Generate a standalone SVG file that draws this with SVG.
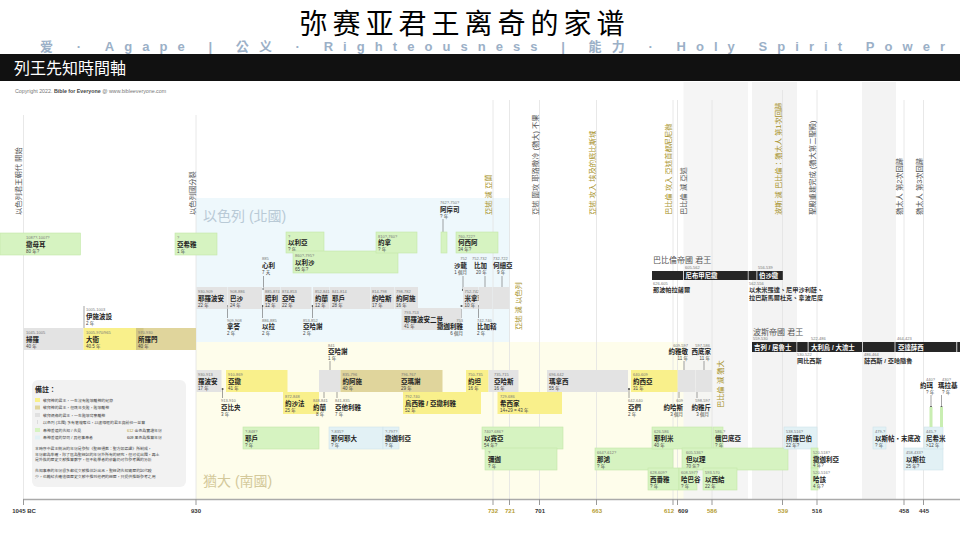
<svg xmlns="http://www.w3.org/2000/svg" width="960" height="541" viewBox="0 0 960 541">
<style>
text{font-family:"Liberation Sans","Noto Sans CJK TC",sans-serif}
.d{font-size:4px;fill:#777}
.n{font-size:6.5px;font-weight:bold;fill:#222}
.y{font-size:4.5px;fill:#444}
.kg{fill:#e3e3e3}
.ky{fill:#f9f08b}
.kt{fill:#e0d59c}
.pg{fill:#d6f3c1;stroke:#c3e8a9;stroke-width:.6}
.pb{fill:#e2f1f5;stroke:#cfe4ea;stroke-width:.6}
.grid{stroke:#e2e2e2;stroke-width:.8}
.band{fill:#f3f3f3}
.ev{font-size:7.3px;fill:#555}
.evg{font-size:7.3px;fill:#a8922a}
.tick{stroke:#999;stroke-width:1}
.ln{stroke:#666;stroke-width:.6;fill:none}
.dot{fill:#555}
.bk{fill:#262626}
.bt{font-size:6.4px;font-weight:bold;fill:#fff}
.bn{font-size:6.2px;font-weight:bold;fill:#333}
.emp{font-size:8px;fill:#555}
.ax{font-size:6px;font-weight:bold;fill:#333}
.axg{font-size:6px;font-weight:bold;fill:#b59d34}
.lg{font-size:3.9px;fill:#444}
.e{text-anchor:end}
</style>
<rect width="960" height="541" fill="#fff"/>

<!-- header -->
<text x="462" y="33.5" text-anchor="middle" font-size="28" textLength="325" lengthAdjust="spacing" style="font-family:'Noto Sans CJK SC',sans-serif" fill="#000">弥赛亚君王离奇的家谱</text>
<text x="40" y="51" font-size="13" font-weight="bold" fill="#9bb0c7" textLength="905" lengthAdjust="spacing">爱 · Agape | 公义 · Righteousness | 能力 · Holy Spirit Power</text>
<rect x="0" y="54" width="960" height="27" fill="#111"/>
<text x="14" y="74" font-size="16" fill="#fff">列王先知時間軸</text>
<text x="15" y="93" font-size="5.3" fill="#777">Copyright 2022. <tspan font-weight="bold" fill="#444">Bible for Everyone</tspan> @ www.bibleeveryone.com</text>

<!-- background regions -->
<rect x="196" y="198" width="314" height="144" fill="#eef8fc"/>
<rect x="196" y="342" width="516" height="157" fill="#fefdeb"/>
<rect class="band" x="683.5" y="82" width="64.5" height="417" opacity=".85"/>
<rect class="band" x="752" y="82" width="45" height="417"/>
<rect class="band" x="862" y="82" width="34" height="417"/>
<text x="203" y="221" font-size="14" fill="#b9cad6">以色列 (北國)</text>
<text x="203" y="486" font-size="14" fill="#d4c99b">猶大 (南國)</text>

<!-- grid -->
<g id="grid">
<line class="grid" x1="23.5" y1="115" x2="23.5" y2="499"/>
<line class="grid" x1="196" y1="115" x2="196" y2="499"/>
<line class="grid" x1="493" y1="100" x2="493" y2="499"/>
<line class="grid" x1="509.5" y1="100" x2="509.5" y2="499"/>
<line class="grid" x1="539.5" y1="100" x2="539.5" y2="499"/>
<line class="grid" x1="596.5" y1="100" x2="596.5" y2="499"/>
<line class="grid" x1="673" y1="100" x2="673" y2="499"/>
<line class="grid" x1="677.5" y1="100" x2="677.5" y2="499"/>
<line class="grid" x1="712" y1="100" x2="712" y2="499"/>
<line class="grid" x1="782.5" y1="90" x2="782.5" y2="499"/>
<line class="grid" x1="817" y1="90" x2="817" y2="499"/>
<line class="grid" x1="904" y1="100" x2="904" y2="499"/>
<line class="grid" x1="923.5" y1="100" x2="923.5" y2="499"/>
</g>

<!-- events -->
<g id="events">
<text class="ev" transform="translate(20.5,215) rotate(-90)">以色列君王朝代 開始</text>
<text class="ev" transform="translate(194.5,215) rotate(-90)">以色列國分裂</text>
<text class="evg" transform="translate(491,215) rotate(-90)">亞述 滅 亞蘭</text>
<text class="ev" transform="translate(537.5,215) rotate(-90)">亞述 圍攻 耶路撒冷 (猶大) 不果</text>
<text class="evg" transform="translate(595,215) rotate(-90)">亞述 攻入 埃及的底比斯城</text>
<text class="evg" transform="translate(670.5,215) rotate(-90)">巴比倫 攻入 亞述首都尼尼微</text>
<text class="ev" transform="translate(685.5,215) rotate(-90)">巴比倫 滅 亞述</text>
<text class="evg" transform="translate(780.5,215) rotate(-90)">波斯 滅 巴比倫：猶太人 第1次回歸</text>
<text class="ev" transform="translate(815,215) rotate(-90)">聖殿重建完成 (猶大第二聖殿)</text>
<text class="ev" transform="translate(901.5,215) rotate(-90)">猶太人 第2次回歸</text>
<text class="ev" transform="translate(921.5,215) rotate(-90)">猶太人 第3次回歸</text>
<text class="evg" transform="translate(521,330) rotate(-90)">亞述 滅 以色列</text>
<text class="evg" transform="translate(722.5,408) rotate(-90)">巴比倫 滅 猶大</text>
</g>

<!-- connectors -->
<g id="connectors">
<line class="ln" x1="84" y1="306" x2="84" y2="328"/>
<line class="ln" x1="443" y1="219" x2="443" y2="236"/><circle class="dot" cx="443" cy="236" r="1.1"/>
<line class="ln" x1="263.5" y1="276" x2="263.5" y2="289"/><circle class="dot" cx="263.5" cy="289" r="1.1"/>
<line class="ln" x1="463" y1="276" x2="463" y2="290"/><circle class="dot" cx="463" cy="290" r="1.1"/>
<line class="ln" x1="485" y1="276" x2="485" y2="290"/><circle class="dot" cx="485" cy="290" r="1.1"/>
<line class="ln" x1="502" y1="276" x2="502" y2="290"/><circle class="dot" cx="502" cy="290" r="1.1"/>
<line class="ln" x1="227.5" y1="306" x2="227.5" y2="318"/><circle class="dot" cx="227.5" cy="306" r="1.1"/>
<line class="ln" x1="262.5" y1="306" x2="262.5" y2="318"/><circle class="dot" cx="262.5" cy="306" r="1.1"/>
<line class="ln" x1="312.5" y1="306" x2="312.5" y2="318"/><circle class="dot" cx="312.5" cy="306" r="1.1"/>
<line class="ln" x1="461.5" y1="309" x2="461.5" y2="318"/><circle class="dot" cx="461.5" cy="306" r="1.1"/>
<line class="ln" x1="478.5" y1="306" x2="478.5" y2="318"/><circle class="dot" cx="478.5" cy="306" r="1.1"/>
<line class="ln" x1="330" y1="361" x2="330" y2="373"/><circle class="dot" cx="330" cy="373" r="1.1"/>
<line class="ln" x1="684" y1="361" x2="684" y2="373"/><circle class="dot" cx="684" cy="373" r="1.1"/>
<line class="ln" x1="704" y1="361" x2="704" y2="373"/><circle class="dot" cx="704" cy="373" r="1.1"/>
<line class="ln" x1="222.5" y1="389" x2="222.5" y2="398"/><circle class="dot" cx="222.5" cy="389" r="1.1"/>
<line class="ln" x1="324" y1="389" x2="324" y2="398"/><circle class="dot" cx="324" cy="389" r="1.1"/>
<line class="ln" x1="337" y1="389" x2="337" y2="398"/><circle class="dot" cx="337" cy="389" r="1.1"/>
<line class="ln" x1="629" y1="389" x2="629" y2="398"/><circle class="dot" cx="629" cy="389" r="1.1"/>
<line class="ln" x1="679" y1="389" x2="679" y2="398"/><circle class="dot" cx="679" cy="389" r="1.1"/>
<line class="ln" x1="697" y1="389" x2="697" y2="398"/><circle class="dot" cx="697" cy="389" r="1.1"/>
<line class="ln" x1="931" y1="395" x2="931" y2="407"/><circle class="dot" cx="931" cy="407" r="1.1"/>
<line class="ln" x1="941.5" y1="395" x2="941.5" y2="407"/><circle class="dot" cx="941.5" cy="407" r="1.1"/>
</g>

<!-- united kingdom -->
<g id="saul"><rect class="kg" x="23.5" y="328" width="60" height="22"/><text class="d" x="26" y="334">1045-1005</text><text class="n" x="26" y="342">掃羅</text><text class="y" x="26" y="348">40 年</text></g>
<g id="david"><rect class="ky" x="83.5" y="328" width="52.5" height="22"/><text class="d" x="86" y="334">1005-970/965</text><text class="n" x="86" y="342">大衛</text><text class="y" x="86" y="348">40.5 年</text></g>
<g id="solomon"><rect class="kt" x="136" y="328" width="60" height="22"/><rect x="136" y="328" width="7.5" height="22" fill="#d3c784"/><text class="d" x="138" y="334">970-930</text><text class="n" x="138" y="342">所羅門</text><text class="y" x="138" y="348">40 年</text></g>
<g id="ishbosheth"><text class="d" x="86" y="311">1005-1003</text><text class="n" x="86" y="319">伊施波設</text><text class="y" x="86" y="325">2 年</text></g>

<!-- early prophets -->
<g id="samuel"><rect class="pg" x="0" y="233" width="80.5" height="22"/><text class="d" x="26" y="239">1087?-1007?</text><text class="n" x="26" y="247">撒母耳</text><text class="y" x="26" y="253">80 年?</text></g>
<g id="ahijah"><rect class="pg" x="175" y="233" width="42" height="22"/><text class="d" x="177" y="239">?</text><text class="n" x="177" y="247">亞希雅</text><text class="y" x="177" y="253">1 年</text></g>

<!-- northern prophets -->
<g id="elijah"><rect class="pg" x="286" y="232" width="38" height="21"/><text class="d" x="288" y="238">?</text><text class="n" x="288" y="245">以利亞</text><text class="y" x="288" y="251">? 年</text></g>
<g id="elisha"><rect class="pg" x="293" y="251" width="105" height="22"/><text class="d" x="295" y="257">860?-795?</text><text class="n" x="295" y="265">以利沙</text><text class="y" x="295" y="271">65 年?</text></g>
<g id="jonah"><rect class="pg" x="376" y="232" width="41" height="21"/><text class="d" x="378" y="238">810?-760?</text><text class="n" x="378" y="245">約拿</text><text class="y" x="378" y="251">? 年</text></g>
<g id="amos"><rect class="pg" x="441" y="232" width="6" height="21"/><text class="d" x="440" y="204">762?-750?</text><text class="n" x="440" y="212">阿摩司</text><text class="y" x="440" y="218">? 年</text></g>
<g id="hosea"><rect class="pg" x="456" y="232" width="42" height="21"/><text class="d" x="458" y="238">760-722?</text><text class="n" x="458" y="245">何西阿</text><text class="y" x="458" y="251">34 年?</text></g>

<!-- northern kings -->
<g id="jeroboam"><rect class="kg" x="196.5" y="287" width="31" height="22"/><text class="d" x="198" y="293">930-909</text><text class="n" x="198" y="301">耶羅波安</text><text class="y" x="198" y="307">22 年</text></g>
<g id="nadab"><text class="d" x="227" y="322">909-908</text><text class="n" x="227" y="329">拿答</text><text class="y" x="227" y="335">2 年</text></g>
<g id="baasha"><rect class="kg" x="228" y="287" width="34" height="22"/><text class="d" x="230" y="293">908-886</text><text class="n" x="230" y="301">巴沙</text><text class="y" x="230" y="307">24 年</text></g>
<g id="elah"><text class="d" x="262" y="322">886-885</text><text class="n" x="262" y="329">以拉</text><text class="y" x="262" y="335">2 年</text></g>
<g id="zimri"><text class="d" x="262" y="260">885</text><text class="n" x="262" y="268">心利</text><text class="y" x="262" y="274">7 天</text></g>
<g id="omri"><rect class="kg" x="263.5" y="287" width="16.5" height="22"/><text class="d" x="265" y="293">885-874</text><text class="n" x="265" y="301">暗利</text><text class="y" x="265" y="307">12 年</text></g>
<g id="ahab"><rect class="kg" x="280.5" y="287" width="31" height="22"/><text class="d" x="282" y="293">874-853</text><text class="n" x="282" y="301">亞哈</text><text class="y" x="282" y="307">22 年</text></g>
<g id="ahaziah-n"><text class="d" x="303" y="322">853-852</text><text class="n" x="303" y="329">亞哈謝</text><text class="y" x="303" y="335">2 年</text></g>
<g id="joram-n"><rect class="kg" x="313" y="287" width="16.5" height="22"/><text class="d" x="315" y="293">852-841</text><text class="n" x="315" y="301">約蘭</text><text class="y" x="315" y="307">12 年</text></g>
<g id="jehu"><rect class="kg" x="330" y="287" width="40" height="22"/><text class="d" x="332" y="293">841-814</text><text class="n" x="332" y="301">耶戶</text><text class="y" x="332" y="307">28 年</text></g>
<g id="jehoahaz-n"><rect class="kg" x="370.5" y="287" width="23.5" height="22"/><text class="d" x="372" y="293">814-798</text><text class="n" x="372" y="301">約哈斯</text><text class="y" x="372" y="307">17 年</text></g>
<g id="joash-n"><rect class="kg" x="394.5" y="287" width="23.5" height="22"/><text class="d" x="396" y="293">798-782</text><text class="n" x="396" y="301">約阿施</text><text class="y" x="396" y="307">16 年</text></g>
<g id="jeroboam2"><rect class="kg" x="401.5" y="308" width="60" height="22"/><text class="d" x="404" y="314">793-753</text><text class="n" x="404" y="322">耶羅波安二世</text><text class="y" x="404" y="328">41 年</text></g>
<g id="zechariah-n"><text class="d e" x="463" y="322">753</text><text class="n e" x="463" y="329">撒迦利雅</text><text class="y e" x="463" y="335">6 個月</text></g>
<g id="shallum"><text class="d e" x="467" y="260">752</text><text class="n e" x="467" y="268">沙龍</text><text class="y e" x="467" y="274">1 個月</text></g>
<g id="menahem"><rect class="kg" x="463" y="287" width="15" height="22"/><text class="d" x="464.5" y="293">752-742</text><text class="n" x="464.5" y="301">米拿現</text><text class="y" x="464.5" y="307">10 年</text></g>
<g id="pekahiah"><text class="d" x="477" y="322">742-740</text><text class="n" x="477" y="329">比加轄</text><text class="y" x="477" y="335">2 年</text></g>
<g id="pekah"><rect class="kg" x="478.5" y="287" width="14" height="22"/><text class="d" x="472" y="260">752-732</text><text class="n" x="474" y="268">比加</text><text class="y" x="476" y="274">20 年</text></g>
<g id="hoshea"><rect class="kg" x="493" y="287" width="16" height="22"/><text class="d" x="493" y="260">732-722</text><text class="n" x="493" y="268">何細亞</text><text class="y" x="497" y="274">9 年</text></g>

<!-- judah kings -->
<g id="rehoboam"><rect class="kg" x="196.5" y="370" width="25" height="22"/><text class="d" x="198" y="376">930-913</text><text class="n" x="198" y="384">羅波安</text><text class="y" x="198" y="390">17 年</text></g>
<g id="abijah"><text class="d" x="221" y="402">913-910</text><text class="n" x="221" y="410">亞比央</text><text class="y" x="221" y="416">3 年</text></g>
<g id="asa"><rect class="ky" x="226" y="370" width="61.5" height="22"/><text class="d" x="228" y="376">910-869</text><text class="n" x="228" y="384">亞撒</text><text class="y" x="228" y="390">41 年</text></g>
<g id="jehoshaphat"><rect class="ky" x="283" y="392" width="36" height="22"/><text class="d" x="285" y="398">872-848</text><text class="n" x="285" y="406">約沙法</text><text class="y" x="285" y="412">25 年</text></g>
<g id="jehoram-j"><rect class="kg" x="319" y="370" width="21.5" height="22"/><text class="d" x="313" y="402">848-841</text><text class="n" x="313" y="410">約蘭</text><text class="y" x="316" y="416">8 年</text></g>
<g id="athaliah"><text class="d" x="335" y="402">841-835</text><text class="n" x="335" y="410">亞他利雅</text><text class="y" x="335" y="416">7 年</text></g>
<g id="ahaziah-j"><text class="d" x="328" y="347">841</text><text class="n" x="328" y="354">亞哈謝</text><text class="y" x="328" y="360">1 年</text></g>
<g id="joash-j"><rect class="kt" x="340.5" y="370" width="58.5" height="22"/><text class="d" x="342.5" y="376">835-796</text><text class="n" x="342.5" y="384">約阿施</text><text class="y" x="342.5" y="390">40 年</text></g>
<g id="amaziah"><rect class="kt" x="399" y="370" width="43.5" height="22"/><text class="d" x="401" y="376">796-767</text><text class="n" x="401" y="384">亞瑪謝</text><text class="y" x="401" y="390">29 年</text></g>
<g id="uzziah"><rect class="ky" x="403" y="392" width="78" height="22"/><text class="d" x="405" y="398">792-740</text><text class="n" x="405" y="406">烏西雅 / 亞撒利雅</text><text class="y" x="405" y="412">52 年</text></g>
<g id="jotham"><rect class="ky" x="466" y="370" width="22.5" height="22"/><text class="d" x="468" y="376">750-735</text><text class="n" x="468" y="384">約坦</text><text class="y" x="468" y="390">16 年</text></g>
<g id="ahaz"><rect class="kg" x="488.5" y="370" width="30" height="22"/><text class="d" x="494" y="376">735-715</text><text class="n" x="494" y="384">亞哈斯</text><text class="y" x="494" y="390">16 年</text></g>
<g id="hezekiah"><rect class="ky" x="497.5" y="392" width="64.5" height="22"/><text class="d" x="500" y="398">729-686</text><text class="n" x="500" y="406">希西家</text><text class="y" x="500" y="412">14+29 = 43 年</text></g>
<g id="manasseh"><rect class="kg" x="547" y="370" width="81" height="22"/><text class="d" x="549" y="376">696-642</text><text class="n" x="549" y="384">瑪拿西</text><text class="y" x="549" y="390">55 年</text></g>
<g id="amon"><text class="d" x="628" y="402">642-640</text><text class="n" x="628" y="410">亞們</text><text class="y" x="628" y="416">2 年</text></g>
<g id="josiah"><rect class="ky" x="631" y="370" width="46.5" height="22"/><text class="d" x="633" y="376">640-609</text><text class="n" x="633" y="384">約西亞</text><text class="y" x="633" y="390">31 年</text></g>
<g id="jehoahaz-j"><text class="d e" x="683" y="402">609</text><text class="n e" x="683" y="410">約哈斯</text><text class="y e" x="683" y="416">3 個月</text></g>
<g id="jehoiakim"><rect class="kg" x="678" y="370" width="17.5" height="22"/><text class="d e" x="688" y="347">609-597</text><text class="n e" x="688" y="354">約雅敬</text><text class="y e" x="688" y="360">11 年</text></g>
<g id="jehoiachin"><text class="d e" x="710" y="402">598-597</text><text class="n e" x="711" y="410">約雅斤</text><text class="y e" x="709" y="416">3 個月</text></g>
<g id="zedekiah"><rect class="kg" x="696" y="370" width="16" height="22"/><text class="d e" x="710" y="347">597-586</text><text class="n e" x="711" y="354">西底家</text><text class="y e" x="710" y="360">11 年</text></g>

<!-- judah prophets -->
<g id="jehu-p"><rect class="pg" x="243" y="427" width="76" height="22"/><text class="d" x="245" y="433">?-848?</text><text class="n" x="245" y="441">耶戶</text><text class="y" x="245" y="447">? 年</text></g>
<g id="jehoiada"><rect class="pb" x="329" y="427" width="54" height="22"/><text class="d" x="331" y="433">?-835?</text><text class="n" x="331" y="441">耶何耶大</text><text class="y" x="331" y="447">? 年</text></g>
<g id="zechariah-p1"><rect class="pb" x="383" y="427" width="16" height="22"/><text class="d" x="385" y="433">?-797?</text><text class="n" x="385" y="441">撒迦利亞</text><text class="y" x="385" y="447">? 年</text></g>
<g id="isaiah"><rect class="pg" x="482" y="427" width="81" height="22"/><text class="d" x="484" y="433">740?-686?</text><text class="n" x="484" y="441">以賽亞</text><text class="y" x="484" y="447">54 年?</text></g>
<g id="micah"><rect class="pg" x="485" y="448" width="72" height="22"/><text class="d" x="488" y="454">?</text><text class="n" x="488" y="462">彌迦</text><text class="y" x="488" y="468">? 年</text></g>
<g id="nahum"><rect class="pg" x="595" y="448" width="78" height="22"/><text class="d" x="597" y="454">664?-612?</text><text class="n" x="597" y="462">那鴻</text><text class="y" x="597" y="468">? 年</text></g>
<g id="jeremiah"><rect class="pg" x="652" y="427" width="60" height="22"/><text class="d" x="654" y="433">626-586</text><text class="n" x="654" y="441">耶利米</text><text class="y" x="654" y="447">40 年</text></g>
<g id="obadiah"><rect class="pg" x="713" y="427" width="10" height="22"/><text class="d" x="715" y="433">586-?</text><text class="n" x="715" y="441">俄巴底亞</text><text class="y" x="715" y="447">? 年</text></g>
<g id="daniel"><rect class="pg" x="682" y="448" width="106" height="22"/><text class="d" x="686" y="454">605-536?</text><text class="n" x="686" y="462">但以理</text><text class="y" x="686" y="468">70 年?</text></g>
<g id="zephaniah"><rect class="pg" x="648" y="468" width="31" height="22"/><text class="d" x="650" y="474">628-609?</text><text class="n" x="650" y="482">西番雅</text><text class="y" x="650" y="488">? 年</text></g>
<g id="habakkuk"><rect class="pg" x="679" y="468" width="18" height="22"/><text class="d" x="681" y="474">608-597?</text><text class="n" x="681" y="482">哈巴谷</text><text class="y" x="681" y="488">? 年</text></g>
<g id="ezekiel"><rect class="pg" x="703" y="468" width="34" height="22"/><text class="d" x="705" y="474">593-570</text><text class="n" x="705" y="482">以西結</text><text class="y" x="705" y="488">22 年</text></g>
<g id="zerubbabel"><rect class="pb" x="784" y="427" width="33" height="22"/><text class="d" x="786" y="433">538-516?</text><text class="n" x="786" y="441">所羅巴伯</text><text class="y" x="786" y="447">22 年?</text></g>
<g id="zechariah-p2"><rect class="pg" x="811" y="448" width="7" height="20"/><text class="d" x="813" y="454">520-518?</text><text class="n" x="813" y="462">撒迦利亞</text><text class="y" x="813" y="467">4 年?</text></g>
<g id="haggai"><rect class="pg" x="811" y="468" width="7" height="22"/><text class="d" x="813" y="474">520-516?</text><text class="n" x="813" y="482">哈該</text><text class="y" x="813" y="488">4 年?</text></g>
<g id="esther"><rect class="pb" x="873" y="427" width="13" height="22"/><text class="d" x="875" y="433">479-?</text><text class="n" x="875" y="441">以斯帖・末底改</text><text class="y" x="875" y="447">? 年</text></g>
<g id="ezra"><rect class="pb" x="904" y="448" width="39" height="22"/><text class="d" x="906" y="454">458-433?</text><text class="n" x="906" y="462">以斯拉</text><text class="y" x="906" y="468">25 年?</text></g>
<g id="nehemiah"><rect class="pb" x="924" y="427" width="19" height="22"/><text class="d" x="926" y="433">445-?</text><text class="n" x="926" y="441">尼希米</text><text class="y" x="926" y="447">&gt;12 年</text></g>
<g id="joel"><rect x="929.5" y="407" width="3" height="20" fill="#c9eeb2"/><text class="d" x="926" y="381">440?</text><text class="n" x="920" y="388">約珥</text><text class="y" x="926" y="394">? 年</text></g>
<g id="malachi"><rect x="940" y="407" width="3" height="20" fill="#c9eeb2"/><text class="d" x="942" y="381">430?</text><text class="n" x="938" y="388">瑪拉基</text><text class="y" x="942" y="394">? 年</text></g>

<!-- babylon -->
<g id="babylon">
<text class="emp" x="653" y="263">巴比倫帝國 君王</text>
<rect class="bk" x="652" y="271" width="31" height="9"/>
<rect class="bk" x="683.8" y="271" width="64" height="9"/>
<rect class="bk" x="748.5" y="271" width="8" height="9"/>
<rect class="bk" x="757.3" y="271" width="25.5" height="9"/>
<text class="d" x="685" y="269">605-562</text>
<text class="bt" x="685.5" y="278">尼布甲尼撒</text>
<text class="d" x="758" y="269">556-539</text>
<text class="bt" x="759" y="278">伯沙撒</text>
<text class="d" x="653" y="285">626-605</text>
<text class="bn" x="653" y="292">那波帕拉薩爾</text>
<text class="d" x="749" y="285">562-556</text>
<text class="bn" x="749" y="292">以未米羅達、尼甲沙利薛、</text>
<text class="bn" x="749" y="299.5">拉巴斯馬爾杜克、拿波尼度</text>
</g>

<!-- persia -->
<g id="persia">
<text class="emp" x="753" y="335">波斯帝國 君王</text>
<rect class="bk" x="752" y="342" width="44.5" height="10"/>
<rect class="bk" x="797.2" y="342" width="10.5" height="10"/>
<rect class="bk" x="808.5" y="342" width="53.5" height="10"/>
<rect class="bk" x="862.8" y="342" width="31.8" height="10"/>
<rect class="bk" x="895.4" y="342" width="61" height="10"/>
<rect class="bk" x="957.2" y="342" width="2.8" height="10"/>
<text class="d" x="753" y="340">559-530</text>
<text class="bt" x="754" y="349.5">吉列 / 居魯士</text>
<text class="d" x="811" y="340">522-486</text>
<text class="bt" x="811" y="349.5">大利烏 / 大流士</text>
<text class="d" x="897" y="340">464-423</text>
<text class="bt" x="898" y="349.5">亞達薛西</text>
<text class="d" x="797" y="356">530-522</text>
<text class="bn" x="797" y="363">岡比西斯</text>
<text class="d" x="864" y="356">486-464</text>
<text class="bn" x="864" y="363">薛西斯 / 亞哈隨魯</text>
</g>

<!-- legend -->
<g id="legend">
<rect x="32" y="380" width="154" height="107" rx="6" fill="#f2f2f2"/>
<text x="35" y="392" font-size="7" font-weight="bold" fill="#222">備註：</text>
<rect x="35" y="398" width="5" height="4" fill="#f9f08b"/><text class="lg" x="43" y="401.5">敬拜神的君王，一生沒有敗壞離神的紀錄</text>
<rect x="35" y="405.5" width="5" height="4" fill="#e0d59c"/><text class="lg" x="43" y="409">敬拜神的君王，但晚年失敗，敗壞離神</text>
<rect x="35" y="413" width="5" height="4" fill="#e0e0e0"/><text class="lg" x="43" y="416.5">敬拜偶像的君王，一生敗壞背棄離神</text>
<line x1="37.5" y1="420" x2="37.5" y2="424" stroke="#ccc" stroke-width=".6"/><text class="lg" x="43" y="424">以色列 (北國) 多有篡權奪位，以虛線框的君王與前任一並算</text>
<rect x="35" y="428" width="5" height="4" fill="#d6f3c1"/><text class="lg" x="43" y="431.5">奉神差遣的先知 / 先見</text>
<text class="lg" x="127" y="431.5"><tspan fill="#b59d34">612</tspan> 金色為實證年份</text>
<rect x="35" y="435.5" width="5" height="4" fill="#e2f1f5"/><text class="lg" x="43" y="439">奉神差遣的祭司 / 其他事奉者</text>
<text class="lg" x="127" y="439"><tspan fill="#222">609</tspan> 黑色為推算年份</text>
<text class="lg" x="35" y="450">本時序中君王統治的年份是參照《聖經通鑑：聖方如梁譯》所制成，</text>
<text class="lg" x="35" y="455.5">年份都為準確，除了區為聖經記的年份外所有的研究，但可從出國，再土</text>
<text class="lg" x="35" y="461">是外族的歷史文獻推算數字，但不能學者的依舊仍可作參考圖的分析</text>
<text class="lg" x="35" y="472">先知事奉的年份很多都從文獻推估計出來，聖經對先知資歷的記代較</text>
<text class="lg" x="35" y="477.5">少，也難給去確這個歷史文獻中推到他們的經歷，只提供推斷參考之用</text>
</g>

<!-- axis -->
<g id="axis">
<line x1="23" y1="499.5" x2="960" y2="499.5" stroke="#aaa" stroke-width="1.3"/>
<line class="tick" x1="23.5" y1="499" x2="23.5" y2="505"/>
<line class="tick" x1="196" y1="499" x2="196" y2="505"/>
<line class="tick" x1="493" y1="499" x2="493" y2="505"/>
<line class="tick" x1="509.5" y1="499" x2="509.5" y2="505"/>
<line class="tick" x1="539.5" y1="499" x2="539.5" y2="505"/>
<line class="tick" x1="596.5" y1="499" x2="596.5" y2="505"/>
<line class="tick" x1="673" y1="499" x2="673" y2="505"/>
<line class="tick" x1="677.5" y1="499" x2="677.5" y2="505"/>
<line class="tick" x1="712" y1="499" x2="712" y2="505"/>
<line class="tick" x1="782.5" y1="499" x2="782.5" y2="505"/>
<line class="tick" x1="817" y1="499" x2="817" y2="505"/>
<line class="tick" x1="904" y1="499" x2="904" y2="505"/>
<line class="tick" x1="923.5" y1="499" x2="923.5" y2="505"/>
<text class="ax" x="24" y="513" text-anchor="middle">1045 BC</text>
<text class="ax" x="196" y="513" text-anchor="middle">930</text>
<text class="axg" x="493" y="513" text-anchor="middle">732</text>
<text class="axg" x="510" y="513" text-anchor="middle">721</text>
<text class="ax" x="540" y="513" text-anchor="middle">701</text>
<text class="axg" x="597" y="513" text-anchor="middle">663</text>
<text class="axg" x="669" y="513" text-anchor="middle">612</text>
<text class="ax" x="683" y="513" text-anchor="middle">609</text>
<text class="axg" x="712" y="513" text-anchor="middle">586</text>
<text class="axg" x="783" y="513" text-anchor="middle">539</text>
<text class="ax" x="817" y="513" text-anchor="middle">516</text>
<text class="ax" x="904" y="513" text-anchor="middle">458</text>
<text class="ax" x="924" y="513" text-anchor="middle">445</text>
</g>
</svg>
